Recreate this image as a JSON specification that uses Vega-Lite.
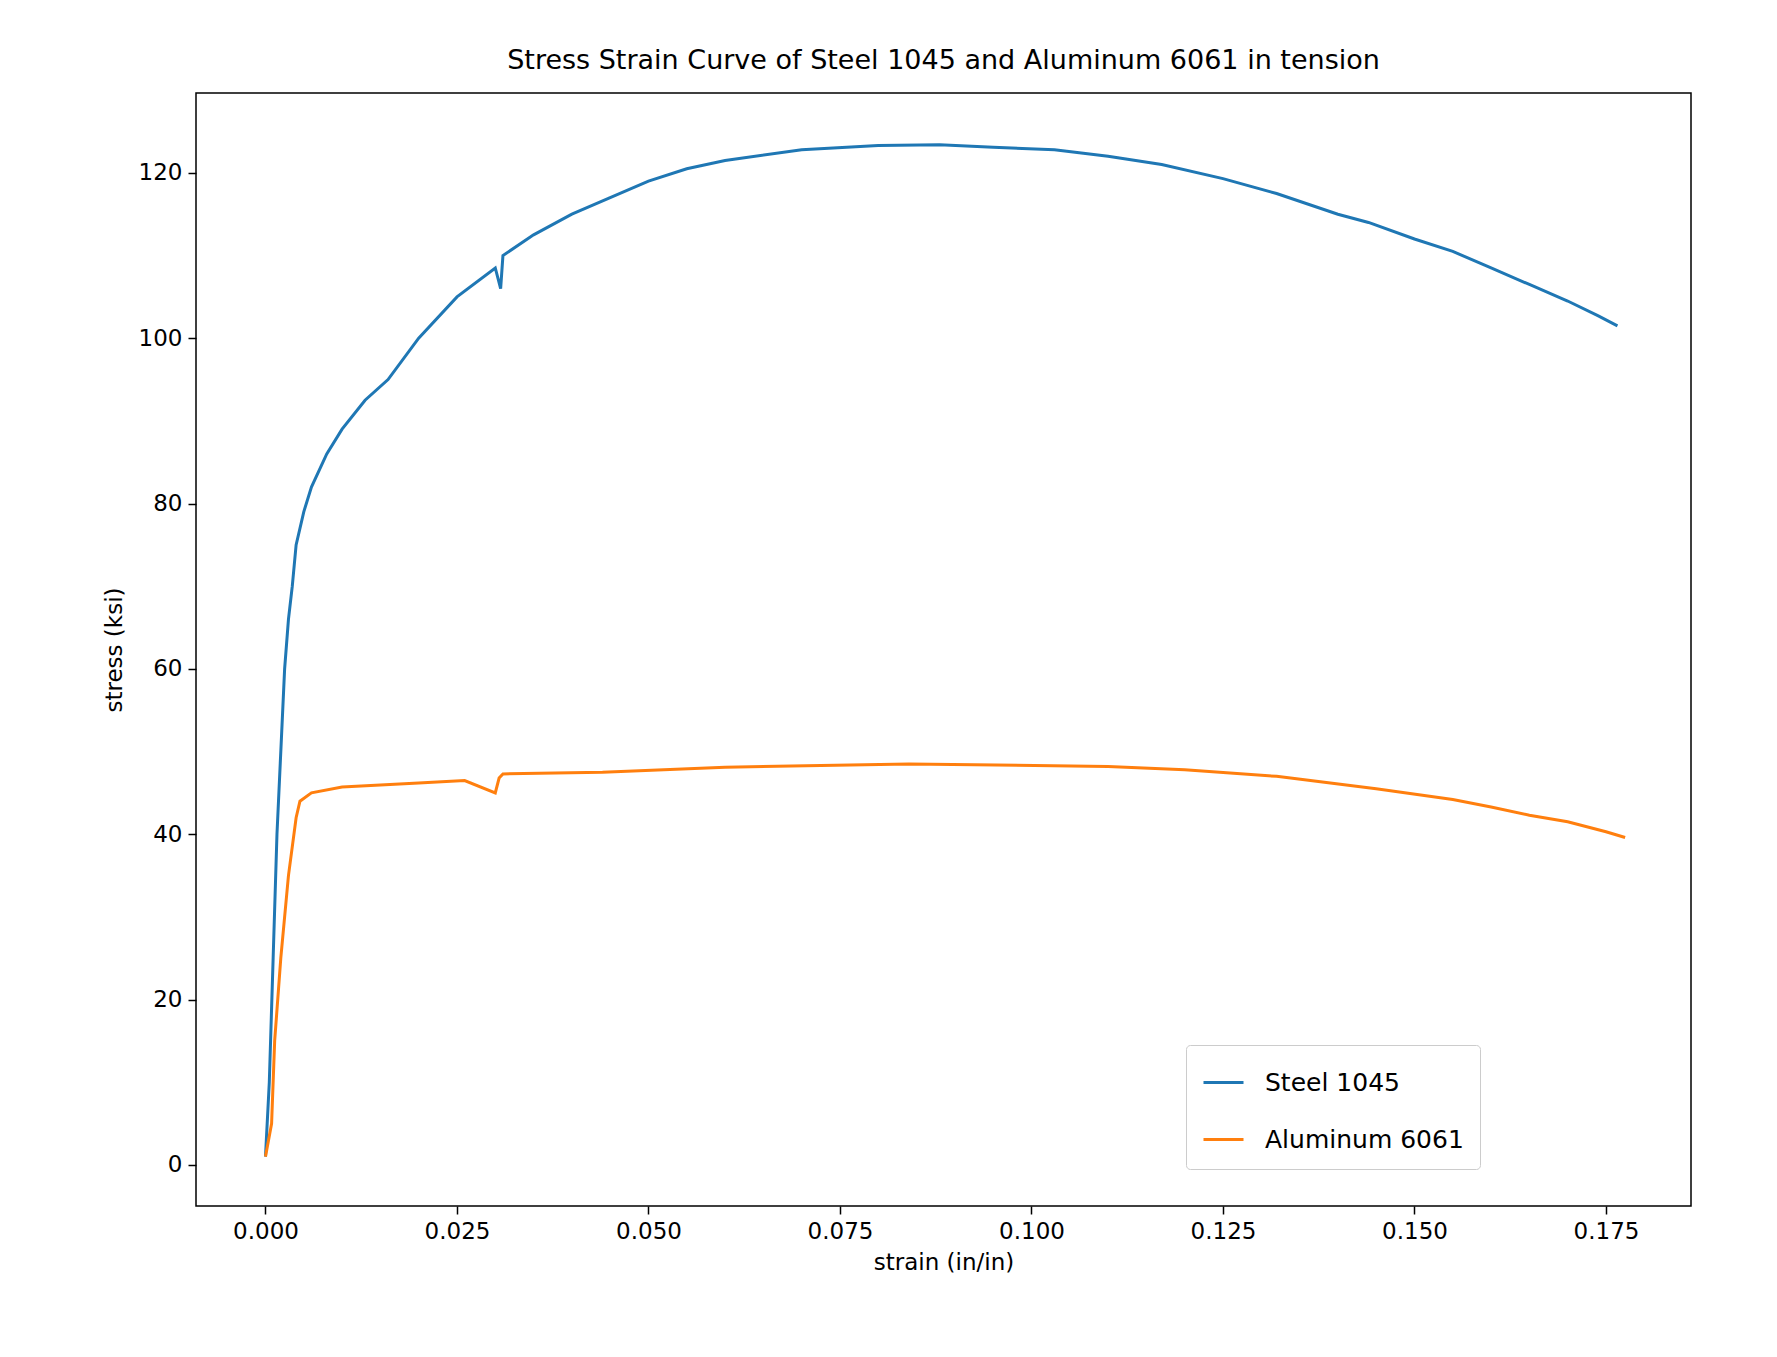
{
  "$schema": "https://vega.github.io/schema/vega-lite/v6.json",
  "width": 1495,
  "height": 1113,
  "autosize": {"type": "none"},
  "padding": {"left": 196, "top": 93, "right": 86, "bottom": 151},
  "background": "white",
  "config": {
    "font": "DejaVu Sans",
    "view": {"stroke": "black", "strokeWidth": 1.5},
    "axis": {"grid": false, "domain": false, "tickColor": "black", "tickSize": 8, "tickWidth": 1.5, "labelFontSize": 23, "labelColor": "black", "titleFontSize": 23, "titleFontWeight": "normal", "titleColor": "black", "labelPadding": 6}
  },
  "title": {"text": "Stress Strain Curve of Steel 1045 and Aluminum 6061 in tension", "fontSize": 27, "fontWeight": "normal", "offset": 18, "color": "black"},
  "data": {"values": [
    {"m":"Steel 1045","i":0,"strain":0,"stress":1},
    {"m":"Steel 1045","i":1,"strain":0.0005,"stress":10},
    {"m":"Steel 1045","i":2,"strain":0.001,"stress":25},
    {"m":"Steel 1045","i":3,"strain":0.0015,"stress":40},
    {"m":"Steel 1045","i":4,"strain":0.002,"stress":50},
    {"m":"Steel 1045","i":5,"strain":0.0025,"stress":60},
    {"m":"Steel 1045","i":6,"strain":0.003,"stress":66},
    {"m":"Steel 1045","i":7,"strain":0.0035,"stress":70},
    {"m":"Steel 1045","i":8,"strain":0.004,"stress":75},
    {"m":"Steel 1045","i":9,"strain":0.005,"stress":79},
    {"m":"Steel 1045","i":10,"strain":0.006,"stress":82},
    {"m":"Steel 1045","i":11,"strain":0.008,"stress":86},
    {"m":"Steel 1045","i":12,"strain":0.01,"stress":89},
    {"m":"Steel 1045","i":13,"strain":0.013,"stress":92.5},
    {"m":"Steel 1045","i":14,"strain":0.016,"stress":95},
    {"m":"Steel 1045","i":15,"strain":0.02,"stress":100},
    {"m":"Steel 1045","i":16,"strain":0.025,"stress":105},
    {"m":"Steel 1045","i":17,"strain":0.03,"stress":108.5},
    {"m":"Steel 1045","i":18,"strain":0.0307,"stress":106},
    {"m":"Steel 1045","i":19,"strain":0.031,"stress":110},
    {"m":"Steel 1045","i":20,"strain":0.035,"stress":112.5},
    {"m":"Steel 1045","i":21,"strain":0.04,"stress":115},
    {"m":"Steel 1045","i":22,"strain":0.045,"stress":117},
    {"m":"Steel 1045","i":23,"strain":0.05,"stress":119},
    {"m":"Steel 1045","i":24,"strain":0.055,"stress":120.5},
    {"m":"Steel 1045","i":25,"strain":0.06,"stress":121.5},
    {"m":"Steel 1045","i":26,"strain":0.07,"stress":122.8},
    {"m":"Steel 1045","i":27,"strain":0.08,"stress":123.3},
    {"m":"Steel 1045","i":28,"strain":0.088,"stress":123.4},
    {"m":"Steel 1045","i":29,"strain":0.095,"stress":123.1},
    {"m":"Steel 1045","i":30,"strain":0.103,"stress":122.8},
    {"m":"Steel 1045","i":31,"strain":0.11,"stress":122},
    {"m":"Steel 1045","i":32,"strain":0.117,"stress":121},
    {"m":"Steel 1045","i":33,"strain":0.125,"stress":119.3},
    {"m":"Steel 1045","i":34,"strain":0.132,"stress":117.5},
    {"m":"Steel 1045","i":35,"strain":0.14,"stress":115},
    {"m":"Steel 1045","i":36,"strain":0.144,"stress":114},
    {"m":"Steel 1045","i":37,"strain":0.15,"stress":112},
    {"m":"Steel 1045","i":38,"strain":0.155,"stress":110.5},
    {"m":"Steel 1045","i":39,"strain":0.16,"stress":108.5},
    {"m":"Steel 1045","i":40,"strain":0.165,"stress":106.5},
    {"m":"Steel 1045","i":41,"strain":0.17,"stress":104.5},
    {"m":"Steel 1045","i":42,"strain":0.174,"stress":102.7},
    {"m":"Steel 1045","i":43,"strain":0.1765,"stress":101.5},
    {"m":"Aluminum 6061","i":0,"strain":0,"stress":1},
    {"m":"Aluminum 6061","i":1,"strain":0.0008,"stress":5},
    {"m":"Aluminum 6061","i":2,"strain":0.0012,"stress":15},
    {"m":"Aluminum 6061","i":3,"strain":0.002,"stress":25},
    {"m":"Aluminum 6061","i":4,"strain":0.003,"stress":35},
    {"m":"Aluminum 6061","i":5,"strain":0.004,"stress":42},
    {"m":"Aluminum 6061","i":6,"strain":0.0045,"stress":44},
    {"m":"Aluminum 6061","i":7,"strain":0.006,"stress":45},
    {"m":"Aluminum 6061","i":8,"strain":0.01,"stress":45.7},
    {"m":"Aluminum 6061","i":9,"strain":0.02,"stress":46.2},
    {"m":"Aluminum 6061","i":10,"strain":0.026,"stress":46.5},
    {"m":"Aluminum 6061","i":11,"strain":0.03,"stress":45},
    {"m":"Aluminum 6061","i":12,"strain":0.0305,"stress":46.8},
    {"m":"Aluminum 6061","i":13,"strain":0.031,"stress":47.3},
    {"m":"Aluminum 6061","i":14,"strain":0.044,"stress":47.5},
    {"m":"Aluminum 6061","i":15,"strain":0.06,"stress":48.1},
    {"m":"Aluminum 6061","i":16,"strain":0.084,"stress":48.5},
    {"m":"Aluminum 6061","i":17,"strain":0.11,"stress":48.2},
    {"m":"Aluminum 6061","i":18,"strain":0.12,"stress":47.8},
    {"m":"Aluminum 6061","i":19,"strain":0.132,"stress":47},
    {"m":"Aluminum 6061","i":20,"strain":0.145,"stress":45.5},
    {"m":"Aluminum 6061","i":21,"strain":0.155,"stress":44.2},
    {"m":"Aluminum 6061","i":22,"strain":0.16,"stress":43.3},
    {"m":"Aluminum 6061","i":23,"strain":0.165,"stress":42.3},
    {"m":"Aluminum 6061","i":24,"strain":0.17,"stress":41.5},
    {"m":"Aluminum 6061","i":25,"strain":0.175,"stress":40.3},
    {"m":"Aluminum 6061","i":26,"strain":0.1775,"stress":39.6}
  ]},
  "mark": {"type": "line", "strokeWidth": 3, "clip": true},
  "encoding": {
    "x": {"field": "strain", "type": "quantitative", "title": "strain (in/in)",
      "scale": {"domain": [-0.00907, 0.1861], "nice": false, "zero": false},
      "axis": {"values": [0, 0.025, 0.05, 0.075, 0.1, 0.125, 0.15, 0.175], "format": ".3f", "titlePadding": 8}},
    "y": {"field": "stress", "type": "quantitative", "title": "stress (ksi)",
      "scale": {"domain": [-4.97, 129.66], "nice": false, "zero": false},
      "axis": {"values": [0, 20, 40, 60, 80, 100, 120], "titlePadding": 12}},
    "order": {"field": "i", "type": "quantitative"},
    "color": {"field": "m", "type": "nominal",
      "scale": {"domain": ["Steel 1045", "Aluminum 6061"], "range": ["#1f77b4", "#ff7f0e"]},
      "legend": {"title": null, "orient": "none", "legendX": 990, "legendY": 952,
        "symbolType": "stroke", "symbolSize": 1600, "symbolStrokeWidth": 3,
        "labelFontSize": 25, "labelLimit": 400, "labelColor": "black", "rowPadding": 22, "labelOffset": 20,
        "padding": 16, "strokeColor": "#cccccc", "cornerRadius": 4, "fillColor": "white"}}
  }
}
